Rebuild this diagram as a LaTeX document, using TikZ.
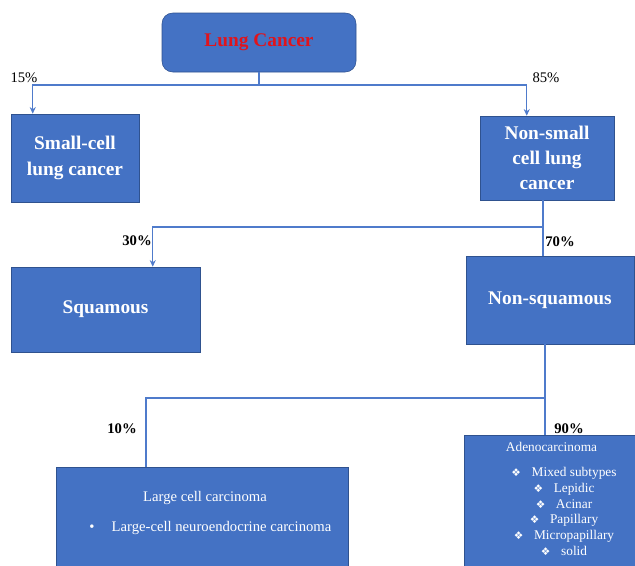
\documentclass[tikz,border=0pt]{standalone}
\usepackage{fontspec}
\setmainfont{Liberation Serif}
\newfontfamily\symfont{DejaVu Sans}
\usetikzlibrary{arrows.meta}
\definecolor{boxblue}{HTML}{4472C4}
\definecolor{boxedge}{HTML}{2F528F}
\definecolor{linkblue}{HTML}{4F7BCB}
\definecolor{titlered}{HTML}{E0141C}
\newcommand{\dia}{{\symfont\fontsize{8}{9}\selectfont\char"2756}}

\begin{document}
\begin{tikzpicture}[x = 0.75pt, y = -0.75pt,
  box/.style = {draw = boxedge, fill = boxblue, text = white, align = center, inner sep = 0pt,
    font = \bfseries\fontsize{14.5}{19.5}\selectfont},
  link/.style = {draw = linkblue, line width = 0.9pt},
  arr/.style = {link, -{Stealth[length = 5pt, width = 4.5pt]}},
  pct/.style = {inner sep = 0pt, font = \fontsize{11}{13}\selectfont},
  bpct/.style = {inner sep = 0pt, font = \bfseries\fontsize{11}{13}\selectfont},
  intext/.style = {inner sep = 0pt, text = white}]
\useasboundingbox (0,0) rectangle (635,565);
\clip (0,0) rectangle (635,565);
% boxes
\node [box, rounded corners = 8pt, minimum width = 145.5pt, minimum height = 44.25pt, text = titlered] (lung) at (259,42.5) {Lung Cancer};
\node [box, minimum width = 96pt, minimum height = 66pt] (sclc) at (75,158) {Small-cell\\lung cancer};
\node [box, minimum width = 100.5pt, minimum height = 63pt, font = \bfseries\fontsize{14.5}{18.75}\selectfont] (nsclc) at (547,158) {Non-small\\cell lung\\cancer};
\node [box, minimum width = 141.75pt, minimum height = 63.75pt] (squam) at (105.5,309.5) {Squamous};
\node [box, minimum width = 126pt, minimum height = 66pt] (nonsq) at (550,300) {Non-squamous};
\node [box, anchor = north west, minimum width = 219pt, minimum height = 75.75pt] (large) at (56,467) {};
\node [box, anchor = north west, minimum width = 128.25pt, minimum height = 98.25pt] (adeno) at (464,435) {};
% texts in the two last boxes
\node [intext, font = \fontsize{11}{13}\selectfont] (largetitle) at (205,498) {Large cell carcinoma};
\node [intext, anchor = west, font = \fontsize{11}{13}\selectfont] (largeitem) at (89,528) {\textbullet\hspace{13pt}Large-cell neuroendocrine carcinoma};
\node [intext, font = \fontsize{10}{12}\selectfont] (adenotitle) at (551.5,447) {Adenocarcinoma};
\node [intext, align = center, font = \fontsize{10}{11.85}\selectfont] (subtypes) at (564,511.5) {\dia\hspace{8pt}Mixed subtypes\\
  \dia\hspace{8pt}Lepidic\\
  \dia\hspace{8pt}Acinar\\
  \dia\hspace{8pt}Papillary\\
  \dia\hspace{8pt}Micropapillary\\
  \dia\hspace{8pt}solid};
% connectors
\coordinate (lungsplit) at (259,85);
\coordinate (lvl2) at (0,227);
\coordinate (lvl3) at (0,398);
\draw [link] (lung.south) -- (lungsplit);
\draw [arr] (lungsplit) -| ([xshift = 16.5pt]sclc.north west);
\draw [arr] (lungsplit) -| ([xshift = 35.25pt]nsclc.north west);
\draw [link] ([xshift = -3pt]nsclc.south) -- ([xshift = -3pt]nsclc.south |- nonsq.north);
\draw [arr] ([xshift = -3pt]nsclc.south |- lvl2) -| ([xshift = 106.5pt]squam.north west);
\draw [link] ([xshift = -3.75pt]nonsq.south) -- ([xshift = -3.75pt]nonsq.south |- adeno.north);
\draw [link] ([xshift = -3.75pt]nonsq.south |- lvl3) -| ([xshift = 67.5pt]large.north west);
% percentages
\node [pct] (p15) at (24,78) {15\%};
\node [pct] (p85) at (546,78) {85\%};
\node [bpct] (p30) at (137,241) {30\%};
\node [bpct] (p70) at (560,242) {70\%};
\node [bpct] (p10) at (122,429) {10\%};
\node [bpct] (p90) at (569,429) {90\%};
\end{tikzpicture}
\end{document}
